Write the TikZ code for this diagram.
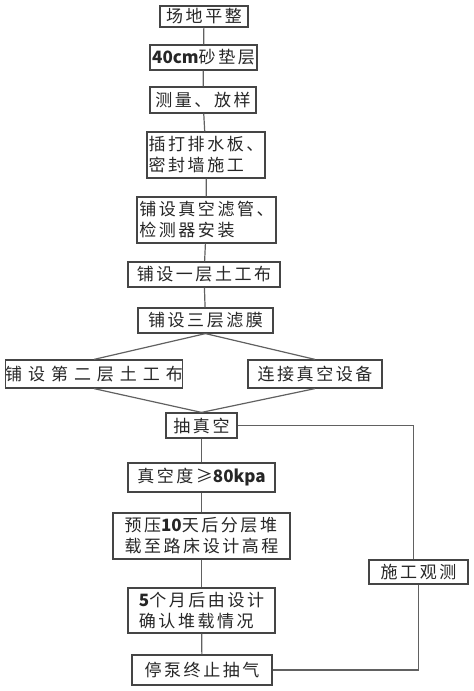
\documentclass[tikz,border=0pt]{standalone}
\usepackage{fontspec}
\newfontfamily\cjk[LetterSpace=15]{Noto Sans CJK SC}
\newfontfamily\cjkwide[LetterSpace=35]{Noto Sans CJK SC}
\newfontfamily\latin{Noto Sans CJK SC}
\newcommand\lnum[1]{{\latin\bfseries #1}}
\definecolor{box-gray}{rgb}{0.27,0.27,0.27}
\definecolor{line-gray}{rgb}{0.38,0.38,0.38}
\tikzset{
  flow/.style={draw=box-gray, line width=1.2pt, inner sep=0pt, align=left,
    font=\cjk\fontsize{17}{21}\selectfont, text=black!85},
  size/.style 2 args={minimum width=#1pt, minimum height=#2pt},
  link/.style={line-gray, line width=1.2pt}
}
\begin{document}
\begin{tikzpicture}[x=1pt, y=-1pt]
  \useasboundingbox (0,0) rectangle (474,691);
  % main column
  \node[flow, size={88}{21}]  (changdi) at (204,16.5)  {场地平整};
  \node[flow, size={107}{25}] (shadian) at (203.5,57.5) {\lnum{40cm}砂垫层};
  \node[flow, size={106}{26}] (celiang) at (203,100)   {测量、放样};
  \node[flow, size={118}{46}] (chada)   at (206,155)   {插打排水板、\\密封墙施工};
  \node[flow, size={139}{46}] (puguan)  at (206.5,220) {铺设真空滤管、\\检测器安装};
  \node[flow, size={152}{25}] (tugong1) at (204,274.5) {铺设一层土工布};
  \node[flow, size={135}{25}] (lvmo)    at (205.5,320.5) {铺设三层滤膜};
  % branches
  \node[flow, size={176}{28}, font=\cjkwide\fontsize{17}{21}\selectfont]
                              (tugong2) at (94,374)    {铺设第二层土工布};
  \node[flow, size={134}{28}] (lianjie) at (315,374)   {连接真空设备};
  \node[flow, size={71}{25}]  (chou)    at (201.5,425.5) {抽真空};
  \node[flow, size={147}{29}] (zhenkong) at (201.5,477.5) {真空度≥\lnum{80kpa}};
  \node[flow, size={177}{46}] (yuya)    at (201.5,536) {预压\lnum{10}天后分层堆\\载至路床设计高程};
  \node[flow, size={147}{45}] (queren)  at (201.5,610.5) {\lnum{5}个月后由设计\\确认堆载情况};
  \node[flow, size={140}{30}] (tingbeng) at (202,670)  {停泵终止抽气};
  \node[flow, size={99}{24}]  (guance)  at (418.5,572) {施工观测};
  % connectors
  \draw[link] (changdi) -- (shadian);
  \draw[link] (shadian) -- (celiang);
  \draw[link] (celiang) -- (chada);
  \draw[link] (chada) -- (puguan);
  \draw[link] (puguan) -- (tugong1);
  \draw[link] (tugong1) -- (lvmo);
  \draw[link] (lvmo.south) -- (tugong2.north);
  \draw[link] (lvmo.south) -- (lianjie.north);
  \draw[link] (tugong2.south) -- (chou.north);
  \draw[link] (lianjie.south) -- (chou.north);
  \draw[link] (chou) -- (zhenkong);
  \draw[link] (zhenkong) -- (yuya);
  \draw[link] (yuya) -- (queren);
  \draw[link] (queren) -- (tingbeng);
  \draw[link] (chou.east) -| ([xshift=-5pt]guance.north);
  \draw[link] (guance.south) |- (tingbeng.east);
\end{tikzpicture}
\end{document}
